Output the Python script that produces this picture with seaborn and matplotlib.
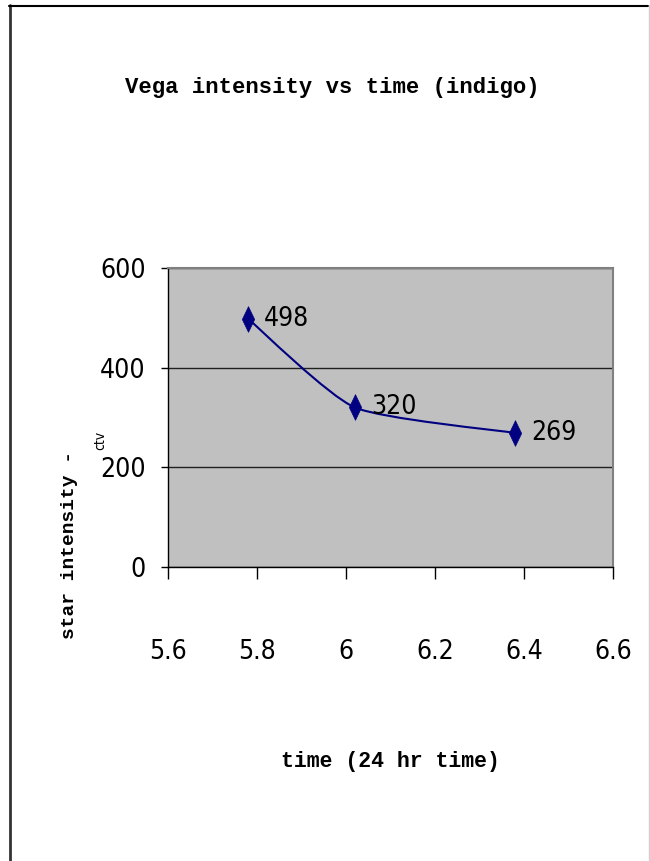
import numpy as np
import pandas as pd
import matplotlib
matplotlib.use("Agg")
import matplotlib.pyplot as plt
from matplotlib.path import Path
from matplotlib.patches import PathPatch
from matplotlib.lines import Line2D
import seaborn as sns

# Chart values
time_hr = [5.78, 6.02, 6.38]
intensity = [498, 320, 269]
point_labels = ["498", "320", "269"]
x_ticks = [5.6, 5.8, 6.0, 6.2, 6.4, 6.6]
x_tick_labels = ["5.6", "5.8", "6", "6.2", "6.4", "6.6"]
y_ticks = [0, 200, 400, 600]
y_tick_labels = ["0", "200", "400", "600"]

title = "Vega intensity vs time (indigo)"
x_title = "time (24 hr time)"
y_title = "star intensity -"
y_sub = "ctv"

sns.set_theme(style="white")
plt.rcParams["text.color"] = "black"
plt.rcParams["xtick.color"] = "black"
plt.rcParams["ytick.color"] = "black"

narrow = ["DejaVu Sans"]
mono = ["Liberation Mono", "DejaVu Sans Mono"]
navy = "#000080"

df = pd.DataFrame({"time": time_hr, "intensity": intensity})

fig = plt.figure(figsize=(6.5, 8.61), dpi=100)
ax = fig.add_axes([0.2585, 0.3415, 0.6846, 0.3473])
ax.set_facecolor("#c0c0c0")

# Excel-style smoothed line (Catmull-Rom turned into bezier segments, low tension)
tension = 1 / 10
pts = df[["time", "intensity"]].to_numpy(float)
verts = [pts[0]]
codes = [Path.MOVETO]
for i in range(len(pts) - 1):
    p0 = pts[max(i - 1, 0)]
    p1 = pts[i]
    p2 = pts[i + 1]
    p3 = pts[min(i + 2, len(pts) - 1)]
    verts += [p1 + (p2 - p0) * tension, p2 - (p3 - p1) * tension, p2]
    codes += [Path.CURVE4] * 3
ax.add_patch(PathPatch(Path(verts, codes), fill=False, edgecolor=navy, lw=1.5, zorder=3))

diamond = [(0, 1), (0.48, 0), (0, -1), (-0.48, 0), (0, 1)]
sns.scatterplot(data=df, x="time", y="intensity", marker=diamond, s=340,
                color=navy, edgecolor=navy, linewidth=0.5, zorder=4, ax=ax, legend=False)

for x, y, lab in zip(time_hr, intensity, point_labels):
    ax.annotate(lab, (x, y), xytext=(16, 0), textcoords="offset pixels",
                ha="left", va="center", fontsize=19, family=narrow, fontstretch="condensed",
                color="black")

ax.set_xlim(5.6, 6.6)
ax.set_ylim(0, 600)
ax.set_xticks(x_ticks)
ax.set_xticklabels(x_tick_labels, family=narrow, fontsize=19, fontstretch="condensed")
ax.set_yticks(y_ticks)
ax.set_yticklabels(y_tick_labels, family=narrow, fontsize=19, fontstretch="condensed")
ax.set_xlabel("")
ax.set_ylabel("")
ax.tick_params(axis="y", direction="out", length=5, width=1, color="black", pad=11, left=True)
ax.tick_params(axis="x", direction="out", length=8.6, width=1, color="black", pad=43, bottom=True)

ax.yaxis.grid(True, color="#202020", lw=1)
ax.xaxis.grid(False)
for side in ["left", "bottom"]:
    ax.spines[side].set_color("black")
    ax.spines[side].set_linewidth(1)
for side in ["top", "right"]:
    ax.spines[side].set_color("#808080")
    ax.spines[side].set_linewidth(1.5)

fig.text(332 / 650, 1 - 88 / 861, title, ha="center", va="center",
         fontsize=16, fontweight="bold", family=mono)
fig.text(390 / 650, 1 - 762 / 861, x_title, ha="center", va="center",
         fontsize=15.5, fontweight="bold", family=mono)
fig.text(69 / 650, 1 - 545 / 861, y_title, ha="center", va="center", rotation=90,
         fontsize=14, fontweight="bold", family=mono)
fig.text(100 / 650, 1 - 440 / 861, y_sub, ha="center", va="center", rotation=90,
         fontsize=10, family=narrow, fontstretch="condensed")

# outer chart frame
fig.add_artist(Line2D([9.5 / 650, 9.5 / 650], [0, 1 - 5 / 861], color="#333333", lw=2))
fig.add_artist(Line2D([9 / 650, 648 / 650], [1 - 5.5 / 861, 1 - 5.5 / 861], color="black", lw=1.5))
fig.add_artist(Line2D([648.5 / 650, 648.5 / 650], [0, 1 - 5 / 861], color="#d0d0d0", lw=1))

fig.savefig("out.png", dpi=100, facecolor="white")
